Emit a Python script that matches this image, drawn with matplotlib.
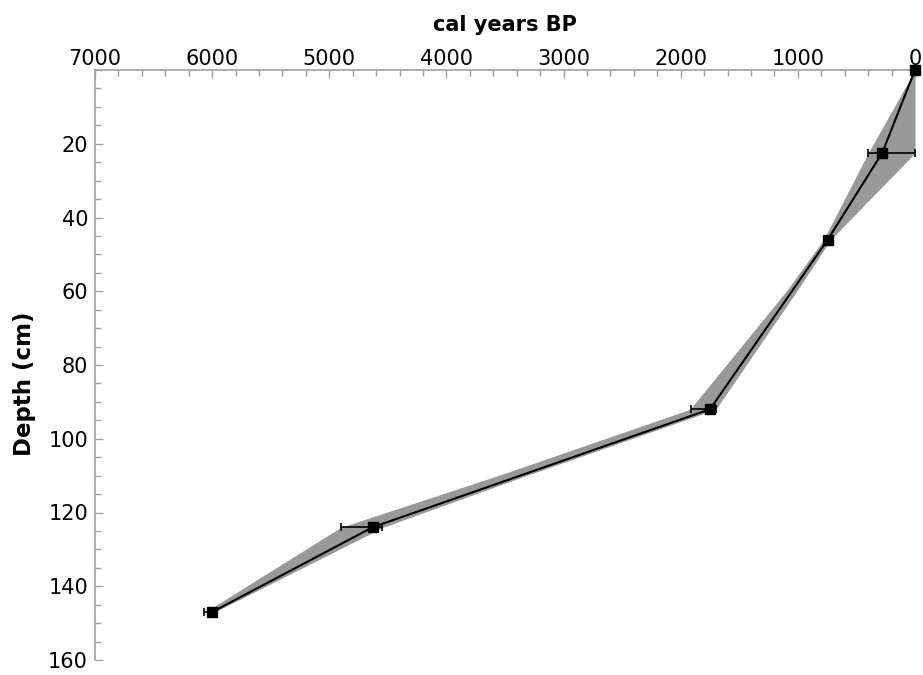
import numpy as np
import matplotlib.pyplot as plt
from matplotlib.ticker import MultipleLocator

# Datações (idade calibrada vs profundidade)
depth = [0, 22.5, 46, 92, 124, 147]
age = [0, 280, 745, 1750, 4630, 6000]
err_old = [0, 120, 0, 165, 270, 70]
err_young = [0, 280, 0, 55, 80, 0]

# Envelope de incerteza do modelo de idade
env_depth = [0, 22.5, 46, 60, 92, 110, 124, 147]
env_old = [0, 400, 780, 1100, 1920, 3560, 4900, 6060]
env_young = [0, 0, 720, 1010, 1700, 3320, 4540, 5980]

fig = plt.figure(figsize=(9.23, 6.75), dpi=100)
ax = fig.add_axes([95 / 923, 1 - 660 / 675, 820 / 923, 590 / 675])

ax.fill_betweenx(env_depth, env_young, env_old, color='#999999', lw=0, zorder=1)
ax.plot(age, depth, color='black', lw=1.5, zorder=2)
ax.errorbar(age, depth, xerr=[err_young, err_old], fmt='none', ecolor='black',
            elinewidth=1.2, capsize=3, capthick=1.2, zorder=3)
ax.plot(age, depth, 's', color='black', ms=7, zorder=4, clip_on=False)

ax.set_xlim(7000, 0)
ax.set_ylim(160, 0)
ax.xaxis.set_ticks_position('top')
ax.xaxis.set_label_position('top')
ax.xaxis.set_major_locator(MultipleLocator(1000))
ax.xaxis.set_minor_locator(MultipleLocator(200))
ax.yaxis.set_major_locator(MultipleLocator(20))
ax.yaxis.set_minor_locator(MultipleLocator(5))
ax.set_yticks(np.arange(20, 161, 20))

for s in ['right', 'bottom']:
    ax.spines[s].set_visible(False)
for s in ['left', 'top']:
    ax.spines[s].set_color('#a0a0a0')
    ax.spines[s].set_linewidth(1.2)

ax.tick_params(which='both', direction='in', color='#a0a0a0', labelsize=15)
ax.tick_params(axis='x', pad=1)
ax.tick_params(axis='y', pad=5)
ax.tick_params(which='major', length=6, width=1)
ax.tick_params(which='minor', length=4, width=1)

ax.set_xlabel('cal years BP', fontsize=15, fontweight='bold', labelpad=13)
ax.set_ylabel('Depth (cm)', fontsize=16.5, fontweight='bold')
ax.yaxis.set_label_coords(-0.072, 0.468)

fig.savefig('out.png', dpi=100)
